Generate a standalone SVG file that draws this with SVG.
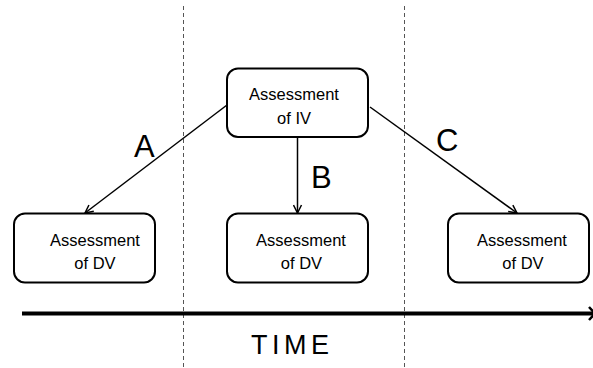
<svg xmlns="http://www.w3.org/2000/svg" width="593" height="368" viewBox="0 0 593 368">
<defs>
<style>
.box{fill:#fff;stroke:#000;stroke-width:2}
.lbl{font-family:"Liberation Sans",Arial,sans-serif;font-size:16.5px;fill:#000;text-anchor:middle}
.big{font-family:"Liberation Sans",Arial,sans-serif;font-size:31px;fill:#000}
.conn{stroke:#000;stroke-width:1.5;fill:none}
.dash{stroke:#555;stroke-width:1;stroke-dasharray:4,3;fill:none}
</style>
<marker id="arr" viewBox="0 0 10 10" refX="9" refY="5" markerWidth="10" markerHeight="10" markerUnits="userSpaceOnUse" orient="auto">
<path d="M1,1 L9,5 L1,9" fill="none" stroke="#000" stroke-width="1.5"/>
</marker>
</defs>
<rect width="593" height="368" fill="#fff"/>
<g id="dividers">
<line class="dash" x1="183.5" y1="6" x2="183.5" y2="368"/>
<line class="dash" x1="404.5" y1="6" x2="404.5" y2="368"/>
</g>
<g id="time-axis">
<line x1="22" y1="313.5" x2="593" y2="313.5" stroke="#000" stroke-width="4"/>
<path d="M589,307 L595,313.5 L589,320" fill="none" stroke="#000" stroke-width="2.5"/>
<text x="251" y="354" font-family="'Liberation Sans',Arial,sans-serif" font-size="27" textLength="78" lengthAdjust="spacing">TIME</text>
</g>
<g id="connectors">
<line class="conn" x1="227" y1="105" x2="85" y2="213" marker-end="url(#arr)"/>
<line class="conn" x1="297.5" y1="137" x2="297.5" y2="213" marker-end="url(#arr)"/>
<line class="conn" x1="370" y1="107" x2="517" y2="213" marker-end="url(#arr)"/>
<text class="big" x="134" y="157">A</text>
<text class="big" x="311" y="188">B</text>
<text class="big" x="436" y="151">C</text>
</g>
<g id="node-iv">
<rect class="box" x="227" y="68.5" width="141" height="68.5" rx="11"/>
<text class="lbl" x="294" y="100">Assessment</text>
<text class="lbl" x="294" y="123.5">of IV</text>
</g>
<g id="node-dv-left">
<rect class="box" x="14" y="213.5" width="141" height="69" rx="11"/>
<text class="lbl" x="95" y="245.5">Assessment</text>
<text class="lbl" x="95" y="268.5">of DV</text>
</g>
<g id="node-dv-mid">
<rect class="box" x="227" y="213.5" width="141" height="69" rx="11"/>
<text class="lbl" x="301" y="245.5">Assessment</text>
<text class="lbl" x="301.5" y="268.5">of DV</text>
</g>
<g id="node-dv-right">
<rect class="box" x="448" y="213.5" width="141" height="69" rx="11"/>
<text class="lbl" x="522" y="245.5">Assessment</text>
<text class="lbl" x="523" y="268.5">of DV</text>
</g>
</svg>
